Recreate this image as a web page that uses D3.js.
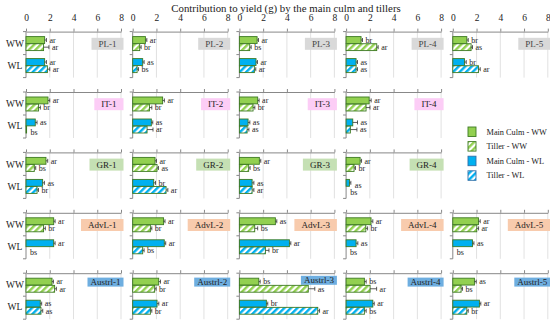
<!DOCTYPE html>
<html><head><meta charset="utf-8">
<script src="https://cdn.jsdelivr.net/npm/d3@7"></script>
<style>body{margin:0;background:#fff}svg{display:block}text{font-family:"Liberation Serif",serif}</style>
</head><body>
<svg id="chart" width="550" height="323"></svg>
<script>
const title = "Contribution to yield (g) by the main culm and tillers";
const groups = ["PL","IT","GR","AdvL","Austrl"];
const panelNames = [
  ["PL-1","PL-2","PL-3","PL-4","PL-5"],
  ["IT-1","IT-2","IT-3","IT-4"],
  ["GR-1","GR-2","GR-3","GR-4"],
  ["AdvL-1","AdvL-2","AdvL-3","AdvL-4","AdvL-5"],
  ["Austrl-1","Austrl-2","Austrl-3","Austrl-4","Austrl-5"]
];
const treatments = ["WW","WL"];
const organs = ["Main Culm","Tiller"];
const xTicks = [0,2,4,6,8];
// values in panel order (flattened)
const mainWW   = [1.57,1.07,1.49,1.26,1.18, 1.85,2.52,1.54,1.94, 1.68,1.88,1.68,1.18, 2.33,2.60,3.03,2.10,2.16, 2.19,2.19,1.63,1.54,1.82];
const tillerWW = [1.48,0.59,0.87,2.58,1.54, 1.06,1.41,1.15,1.68, 0.70,2.05,0.78,0.67, 1.48,1.49,1.29,1.66,2.02, 2.41,1.85,5.80,2.02,0.70];
const mainWL   = [1.57,0.84,1.40,0.84,0.98, 0.78,1.57,0.73,0.56, 1.40,1.77,1.07,0.28, 2.33,2.66,4.21,0.84,1.66, 1.20,2.05,2.27,2.25,2.24];
const tillerWL = [1.80,0.37,1.26,0.84,2.16, 0.05,1.21,0.65,0.36, 0.93,2.81,1.07,0.02, 0.00,0.84,2.19,0.00,0.00, 1.26,1.49,6.60,1.54,1.18];
const errMainWW   = [0.15,0.12,0.12,0.12,0.12, 0.15,0.15,0.12,0.17, 0.15,0.12,0.12,0.12, 0.12,0.12,0.12,0.15,0.15, 0.12,0.15,0.12,0.15,0.15];
const errTillerWW = [0.45,0.12,0.12,0.12,0.12, 0.15,0.20,0.15,0.33, 0.12,0.12,0.12,0.12, 0.15,0.12,0.25,0.15,0.15, 0.15,0.12,0.55,0.55,0.12];
const errMainWL   = [0.15,0.12,0.12,0.12,0.15, 0.15,0.12,0.15,0.40, 0.15,0.15,0.15,0.12, 0.12,0.12,0.12,0.15,0.12, 0.12,0.15,0.12,0.12,0.12];
const errTillerWL = [0.20,0.12,0.12,0.12,0.15, 0.00,0.50,0.15,0.55, 0.12,0.15,0.15,0.00, 0.00,0.12,0.30,0.00,0.00, 0.15,0.12,0.15,0.15,0.12];
const letMainWW   = ["ar","ar","ar","br","br", "ar","ar","ar","ar", "ar","ar","ar","ar", "ar","ar","as","ar","ar", "ar","ar","bs","bs","as"];
const letTillerWW = ["ar","br","bs","ar","as", "br","br","br","ar", "bs","as","bs","br", "br","br","bs","br","ar", "ar","br","as","ar","bs"];
const letMainWL   = ["ar","as","ar","as","br", "as","as","as","as", "as","br","as","as", "ar","ar","ar","as","as", "as","ar","br","ar","ar"];
const letTillerWL = ["ar","bs","ar","as","ar", "bs","ar","as","as", "br","ar","ar","bs", "bs","bs","br","bs","bs", "as","br","ar","bs","br"];

const groupColors = {PL:"#d9d9d9", IT:"#fccdf6", GR:"#c5e0b4", AdvL:"#f8cbad", Austrl:"#6eaee0"};
const green = "#92d050", blue = "#00b0f0", edge = "#3d7a22";

const svg = d3.select("#chart");
const defs = svg.append("defs");
function hatch(id, col){
  const p = defs.append("pattern").attr("id",id).attr("patternUnits","userSpaceOnUse")
    .attr("width",4.6).attr("height",4.6).attr("patternTransform","rotate(45)");
  p.append("rect").attr("width",4.6).attr("height",4.6).attr("fill","#fff");
  p.append("rect").attr("width",2.4).attr("height",4.6).attr("fill",col);
}
hatch("hG", green); hatch("hB", blue);
const fills = [[green,"url(#hG)"],[blue,"url(#hB)"]];

svg.append("text").attr("x",286).attr("y",12).attr("text-anchor","middle")
  .attr("font-size",10.8).attr("fill","#222").text(title);

const colStep = 106.7, rowStep = 60.4, leftX = 26, topY = 31.6;
const pw = 95, ph = 46;
const x = d3.scaleLinear().domain([0,8]).range([0,pw]);
const yG = d3.scaleBand().domain(treatments).range([0,ph]).paddingInner(0.364).paddingOuter(0.227);
const yO = d3.scaleBand().domain(organs).range([0,yG.bandwidth()]).paddingInner(0.04);

let k = 0;
panelNames.forEach((row, r) => {
  row.forEach((name, c) => {
    const i = k++;
    const g = svg.append("g").attr("transform",`translate(${leftX + c*colStep},${topY + r*rowStep})`);
    // grid
    g.selectAll(".grid").data(xTicks.slice(1)).join("line")
      .attr("x1",d=>x(d)).attr("x2",d=>x(d)).attr("y1",0).attr("y2",ph)
      .attr("stroke","#d9d9d9").attr("stroke-width",0.8);
    // top axis
    const ax = g.append("g").call(d3.axisTop(x).tickValues(xTicks).tickSize(3).tickSizeOuter(0)
      .tickFormat(r===0 ? d3.format("d") : ""));
    ax.select(".domain").attr("stroke","#888");
    ax.selectAll(".tick line").attr("stroke","#888");
    ax.selectAll("text").attr("font-family","Liberation Serif, serif").attr("font-size",9.5).attr("fill","#222").attr("dy","-0.5em");
    // left axis
    g.selectAll(".yt").data([0, ph/2, ph]).join("line")
      .attr("x1",-3).attr("x2",0).attr("y1",d=>d).attr("y2",d=>d).attr("stroke","#888");
    g.append("line").attr("x1",0).attr("x2",0).attr("y1",0).attr("y2",ph).attr("stroke","#888");
    if (c===0) {
      treatments.forEach(t => g.append("text").attr("x",-11).attr("y",yG(t)+yG.bandwidth()/2+3.2)
        .attr("text-anchor","middle").attr("font-size",9.5).attr("fill","#222").text(t));
    }
    // label box
    const grp = groups[r];
    const lab = g.append("g");
    const tx = lab.append("text").attr("font-size",9).attr("fill", grp==="PL" ? "#444" : "#222").text(name);
    const tw = tx.node().getComputedTextLength();
    const isA = grp==="Austrl";
    const bw = tw + (isA ? 6 : 14), bh = isA ? 9 : 12;
    const by = isA ? (name==="Austrl-3" ? 2.6 : 4.4) : 6.2;
    const bx = pw + 2.5 - bw;
    lab.insert("rect","text").attr("x",bx).attr("y",by).attr("width",bw).attr("height",bh).attr("fill",groupColors[grp]);
    tx.attr("x",bx+bw/2).attr("y",by+bh/2+3.1).attr("text-anchor","middle");
    // bars
    const bars = [
      {t:"WW",o:"Main Culm",v:mainWW[i],e:errMainWW[i],l:letMainWW[i],f:fills[0][0]},
      {t:"WW",o:"Tiller",v:tillerWW[i],e:errTillerWW[i],l:letTillerWW[i],f:fills[0][1]},
      {t:"WL",o:"Main Culm",v:mainWL[i],e:errMainWL[i],l:letMainWL[i],f:fills[1][0]},
      {t:"WL",o:"Tiller",v:tillerWL[i],e:errTillerWL[i],l:letTillerWL[i],f:fills[1][1]}
    ];
    bars.forEach(b => {
      const y0 = yG(b.t) + yO(b.o), h = yO.bandwidth(), cy = y0 + h/2;
      if (b.v > 0.03) {
        g.append("rect").attr("x",0).attr("y",y0).attr("width",x(b.v)).attr("height",h)
          .attr("fill",b.f).attr("stroke",edge).attr("stroke-width",0.9);
      }
      if (b.e > 0) {
        g.append("line").attr("x1",x(b.v)).attr("x2",x(b.v+b.e)).attr("y1",cy).attr("y2",cy).attr("stroke","#333").attr("stroke-width",0.8);
        g.append("line").attr("x1",x(b.v+b.e)).attr("x2",x(b.v+b.e)).attr("y1",cy-2).attr("y2",cy+2).attr("stroke","#333").attr("stroke-width",0.8);
      }
      const small = b.v < 0.3;
      g.append("text").attr("x", small ? x(b.v+b.e)+4 : x(b.v+b.e)+3).attr("y", small ? cy+5 : cy+2.8)
        .attr("font-size",8).attr("fill","#222").text(b.l);
    });
  });
});

// legend
const legend = [
  {n:"Main Culm - WW", f:green},
  {n:"Tiller - WW", f:"url(#hG)"},
  {n:"Main Culm - WL", f:blue},
  {n:"Tiller - WL", f:"url(#hB)"}
];
const lg = svg.append("g").attr("transform","translate(468,127)");
legend.forEach((d,j) => {
  lg.append("rect").attr("x",0).attr("y",j*14.6).attr("width",8).attr("height",9.5)
    .attr("fill",d.f).attr("stroke", j<2 ? edge : "#2f6fa8").attr("stroke-width",0.9);
  lg.append("text").attr("x",18.5).attr("y",j*14.6+7.5).attr("font-size",8.3).attr("fill","#222").text(d.n);
});
</script>
</body></html>
